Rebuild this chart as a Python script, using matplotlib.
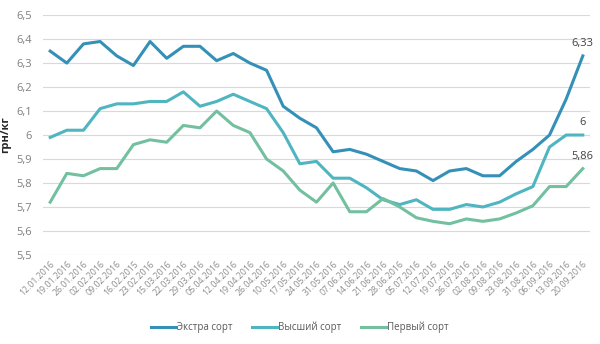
import numpy as np
import matplotlib.pyplot as plt
from matplotlib.ticker import FuncFormatter

plt.rcParams['font.family'] = ['Open Sans', 'DejaVu Sans']

dates = ['12.01.2016', '19.01.2016', '26.01.2016', '02.02.2016', '09.02.2016',
         '16.02.2015', '23.02.2016', '15.03.2016', '22.03.2016', '29.03.2016',
         '05.04.2016', '12.04.2016', '19.04.2016', '26.04.2016', '10.05.2016',
         '17.05.2016', '24.05.2016', '31.05.2016', '07.06.2016', '14.06.2016',
         '21.06.2016', '28.06.2016', '05.07.2016', '12.07.2016', '19.07.2016',
         '26.07.2016', '02.08.2016', '09.08.2016', '23.08.2016', '31.08.2016',
         '06.09.2016', '13.09.2016', '20.09.2016']

extra = [6.35, 6.30, 6.38, 6.39, 6.33, 6.29, 6.39, 6.32, 6.37, 6.37, 6.31,
         6.34, 6.30, 6.27, 6.12, 6.07, 6.03, 5.93, 5.94, 5.92, 5.89, 5.86,
         5.85, 5.81, 5.85, 5.86, 5.83, 5.83, 5.89, 5.94, 6.00, 6.15, 6.33]
vysshiy = [5.99, 6.02, 6.02, 6.11, 6.13, 6.13, 6.14, 6.14, 6.18, 6.12, 6.14,
           6.17, 6.14, 6.11, 6.01, 5.88, 5.89, 5.82, 5.82, 5.78, 5.73, 5.71,
           5.73, 5.69, 5.69, 5.71, 5.70, 5.72, 5.755, 5.785, 5.95, 6.00, 6.00]
perviy = [5.72, 5.84, 5.83, 5.86, 5.86, 5.96, 5.98, 5.97, 6.04, 6.03, 6.10,
          6.04, 6.01, 5.90, 5.85, 5.77, 5.72, 5.80, 5.68, 5.68, 5.735, 5.70,
          5.655, 5.64, 5.63, 5.65, 5.64, 5.65, 5.675, 5.705, 5.785, 5.785, 5.86]

series = [('Экстра сорт', extra, '#3590b8', '6,33'),
          ('Высший сорт', vysshiy, '#4fb5c0', '6'),
          ('Первый сорт', perviy, '#72c09f', '5,86')]

fig = plt.figure(figsize=(6, 3.44), dpi=100)
ax = fig.add_axes([0.072, 0.259, 0.911, 0.697])

x = np.arange(len(dates))
for name, vals, col, lab in series:
    ax.plot(x, vals, color=col, lw=2.2, label=name, solid_joinstyle='round')
    ax.annotate(lab, (x[-1], vals[-1]), xytext=(0, 5), textcoords='offset points',
                ha='center', va='bottom', fontsize=8, color='#404040')

ax.set_ylim(5.5, 6.5)
ax.set_yticks(np.arange(5.5, 6.51, 0.1))
ax.yaxis.set_major_formatter(FuncFormatter(lambda v, p: ('%g' % round(v, 1)).replace('.', ',')))
ax.set_xlim(-0.42, len(dates) - 1 + 0.42)
ax.set_xticks(x)
ax.set_xticklabels(dates, rotation=45, ha='right', rotation_mode='anchor', fontsize=6.3, color='#8c8c8c')
ax.tick_params(axis='y', labelsize=8, labelcolor='#7f7f7f', length=0, pad=8)
ax.tick_params(axis='x', length=0, pad=3)
ax.grid(axis='y', color='#d9d9d9', lw=0.8)
ax.set_axisbelow(True)
for s in ax.spines.values():
    s.set_visible(False)

ax.set_ylabel('грн/кг', fontsize=8, fontweight='bold', color='#262626', labelpad=4)

fig.legend(loc='center', bbox_to_anchor=(0.5, 0.048), ncol=3, frameon=False,
           fontsize=7, handlelength=2.6, handletextpad=0.1, columnspacing=2.0,
           labelcolor='#595959')

plt.savefig('out.png', dpi=100)
